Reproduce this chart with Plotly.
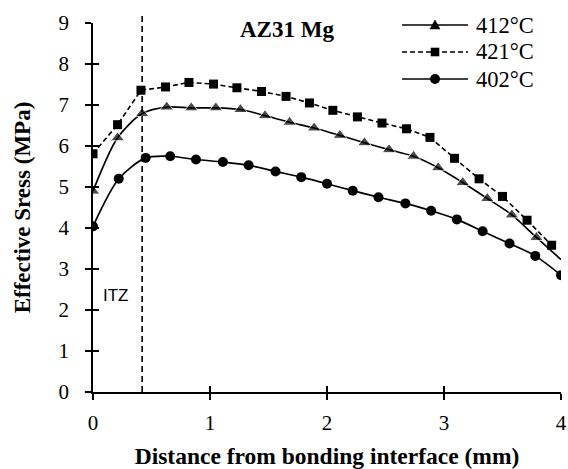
import plotly.graph_objects as go

# ---- data ----
x_412 = [0, 0.21, 0.42, 0.63, 0.84, 1.05, 1.26, 1.47, 1.68, 1.89, 2.11, 2.32, 2.53, 2.74, 2.95, 3.16, 3.37, 3.58, 3.79, 4.0]
y_412 = [4.90, 6.20, 6.79, 6.95, 6.93, 6.93, 6.89, 6.74, 6.58, 6.44, 6.26, 6.08, 5.91, 5.75, 5.47, 5.11, 4.72, 4.32, 3.77, 3.23]

x_421 = [0, 0.21, 0.41, 0.62, 0.82, 1.03, 1.23, 1.44, 1.65, 1.85, 2.05, 2.26, 2.47, 2.68, 2.88, 3.09, 3.30, 3.50, 3.71, 3.92]
y_421 = [5.81, 6.52, 7.36, 7.44, 7.55, 7.51, 7.42, 7.33, 7.21, 7.05, 6.87, 6.71, 6.56, 6.42, 6.21, 5.70, 5.20, 4.77, 4.19, 3.58]

x_402 = [0, 0.22, 0.45, 0.66, 0.88, 1.11, 1.33, 1.56, 1.78, 2.0, 2.22, 2.44, 2.67, 2.89, 3.11, 3.33, 3.56, 3.78, 4.0]
y_402 = [4.04, 5.20, 5.71, 5.75, 5.67, 5.61, 5.53, 5.38, 5.24, 5.08, 4.91, 4.75, 4.60, 4.42, 4.21, 3.92, 3.62, 3.32, 2.85]

series_names = ["412°C", "421°C", "402°C"]
itz_x = 0.42
x_ticks = [0, 1, 2, 3, 4]
y_ticks = [0, 1, 2, 3, 4, 5, 6, 7, 8, 9]

SERIF = "Liberation Serif, Times New Roman, serif"
SANS = "Liberation Sans, Arial, sans-serif"

# plot area in pixels (for layout helpers)
L, R, T, B = 93, 7, 23, 77
W, H = 568, 469
PW, PH = W - L - R, H - T - B


def px_x(p):
    return (p - L) / PW


def px_y(p):
    return (H - B - p) / PH


fig = go.Figure()

msize_412 = [12] * (len(x_412) - 1) + [0]
fig.add_trace(go.Scatter(
    x=x_412, y=y_412, name=series_names[0], mode="lines+markers",
    line=dict(color="black", width=1.7, shape="spline", smoothing=0.8),
    marker=dict(symbol="triangle-up", size=msize_412, color="black"),
))
fig.add_trace(go.Scatter(
    x=x_421, y=y_421, name=series_names[1], mode="lines+markers",
    line=dict(color="black", width=1.6, dash="5px,3px"),
    marker=dict(symbol="square", size=9, color="black"),
))
fig.add_trace(go.Scatter(
    x=x_402, y=y_402, name=series_names[2], mode="lines+markers",
    line=dict(color="black", width=1.7, shape="spline", smoothing=0.8),
    marker=dict(symbol="circle", size=10, color="black"),
))
# overlay axes only for inside ticks (ticks cross the axis lines)
fig.add_trace(go.Scatter(x=[None], y=[None], xaxis="x2", yaxis="y2", showlegend=False, hoverinfo="skip"))

# ITZ marker line and label
fig.add_shape(type="line", xref="x", yref="paper", x0=itz_x, x1=itz_x, y0=0, y1=px_y(13),
              line=dict(color="black", width=1.6, dash="6px,4px"))
fig.add_annotation(x=0.20, y=2.35, xref="x", yref="y", text="ITZ", showarrow=False,
                   font=dict(family=SANS, size=17, color="black"))
fig.add_annotation(x=px_x(287), y=px_y(30), xref="paper", yref="paper", text="<b>AZ31 Mg</b>",
                   showarrow=False, yanchor="middle", xanchor="center",
                   font=dict(family=SERIF, size=23, color="black"))

# legend (drawn as layout decoration to match the reference's long sample lines)
leg_rows = [25, 52, 79]
leg_dash = ["solid", "5px,3px", "solid"]
for name, row, dash, k in zip(series_names, leg_rows, leg_dash, range(3)):
    ya = px_y(row)
    fig.add_shape(type="line", xref="paper", yref="paper", xsizemode="pixel", ysizemode="pixel",
                  xanchor=px_x(435), yanchor=ya, x0=-33, x1=33, y0=0, y1=0,
                  line=dict(color="black", width=1.6, dash=dash))
    if k == 0:
        fig.add_shape(type="path", xref="paper", yref="paper", xsizemode="pixel", ysizemode="pixel",
                      xanchor=px_x(435), yanchor=ya, path="M-5,-4 L5,-4 L0,5 Z",
                      fillcolor="black", line=dict(color="black", width=0.5))
    elif k == 1:
        fig.add_shape(type="rect", xref="paper", yref="paper", xsizemode="pixel", ysizemode="pixel",
                      xanchor=px_x(435), yanchor=ya, x0=-4.3, x1=4.3, y0=-4.3, y1=4.3,
                      fillcolor="black", line=dict(color="black", width=0))
    else:
        fig.add_shape(type="circle", xref="paper", yref="paper", xsizemode="pixel", ysizemode="pixel",
                      xanchor=px_x(435), yanchor=ya, x0=-5, x1=5, y0=-5, y1=5,
                      fillcolor="black", line=dict(color="black", width=0))
    fig.add_annotation(x=px_x(474), y=ya, xref="paper", yref="paper", text=name,
                       showarrow=False, xanchor="left", yanchor="middle",
                       font=dict(family=SERIF, size=22.5, color="black"))

axis_common = dict(showgrid=False, zeroline=False, showline=True, linecolor="black",
                   linewidth=1.6, tickcolor="black", tickwidth=1.6, ticklen=6, automargin=False)

fig.update_layout(
    width=W, height=H,
    margin=dict(l=L, r=R, t=T, b=B),
    paper_bgcolor="white", plot_bgcolor="white",
    font=dict(family=SERIF, size=21, color="black"),
    showlegend=False,
    xaxis=dict(range=[0, 4], tickvals=x_ticks, ticks="outside", ticklabelstandoff=5,
               title=dict(text="<b>Distance from bonding interface (mm)</b>", font=dict(size=23.5), standoff=14),
               **axis_common),
    yaxis=dict(range=[0, 9], tickvals=y_ticks, ticks="outside", ticklabelstandoff=12,
               title=dict(text="<b>Effective Sress (MPa)</b>", font=dict(size=23), standoff=21),
               **axis_common),
    xaxis2=dict(range=[0, 4], tickvals=x_ticks, ticks="inside", overlaying="x", side="bottom",
                showticklabels=False, **axis_common),
    yaxis2=dict(range=[0, 9], tickvals=y_ticks, ticks="inside", overlaying="y", side="left",
                showticklabels=False, **axis_common),
)

fig.write_html("out.html")
